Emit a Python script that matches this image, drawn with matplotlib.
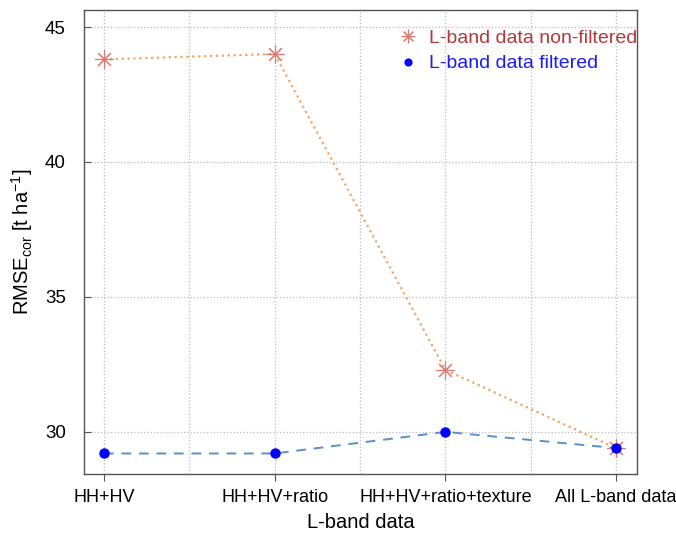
import matplotlib.pyplot as plt

plt.rcParams['font.family'] = ['Liberation Sans', 'DejaVu Sans']
plt.rcParams['mathtext.fontset'] = 'custom'
plt.rcParams['mathtext.rm'] = 'Liberation Sans'
plt.rcParams['mathtext.it'] = 'Liberation Sans'

inputs = ['HH+HV', 'HH+HV+ratio', 'HH+HV+ratio+texture', 'All L-band data']
rmse_nonfiltered = [43.8, 44.0, 32.3, 29.4]
rmse_filtered = [29.2, 29.2, 30.0, 29.4]

x = list(range(len(inputs)))

fig = plt.figure(figsize=(6.76, 5.34), dpi=100)
ax = fig.add_axes([84 / 676, 60 / 534, 553 / 676, 464 / 534])

ax.plot(x, rmse_nonfiltered, linestyle=':', color='#F4A460', lw=1.6, zorder=2)
ax.plot(x, rmse_nonfiltered, linestyle='none', marker=(8, 2, 0), ms=13,
        mec='#DC7A70', mew=0.8, zorder=3, label='L-band data non-filtered')
ax.plot(x, rmse_filtered, linestyle='--', color='#5B8FC9', lw=1.4, zorder=2,
        dashes=(5, 4))
ax.plot(x, rmse_filtered, linestyle='none', marker='o', ms=6.5,
        color='#0000FF', zorder=4, label='L-band data filtered')

ax.set_xlim(-0.117, 3.123)
ax.set_ylim(28.44, 45.63)
ax.set_xticks(x)
ax.set_xticklabels(inputs, fontsize=13)
ax.set_xticks([0.5, 1.5, 2.5], minor=True)
ax.set_yticks([30, 35, 40, 45])
ax.tick_params(axis='y', labelsize=13.5, direction='in', length=5,
               color='#555555', pad=13)
ax.tick_params(axis='x', which='major', length=5, color='#555555', pad=6)
ax.tick_params(axis='x', which='minor', length=0)

ax.grid(True, which='both', axis='x', linestyle=':', color='#BBBBBB', lw=0.9)
ax.grid(True, which='major', axis='y', linestyle=':', color='#BBBBBB', lw=0.9)
ax.set_axisbelow(True)
for s in ax.spines.values():
    s.set_color('#555555')
    s.set_linewidth(1.0)

ax.set_xlabel('L-band data', fontsize=14.5, labelpad=5)
ax.set_ylabel(r'RMSE$_{\mathrm{cor}}$ [t ha$^{-1}$]', fontsize=14.5, labelpad=7)

leg = ax.legend(loc='upper right', frameon=False, fontsize=14,
                handlelength=0.8, handletextpad=0.7, borderaxespad=0.0,
                labelspacing=0.4, markerscale=0.75,
                bbox_to_anchor=(1.015, 0.975))
for txt, c in zip(leg.get_texts(), ['#B5383A', '#1A1AFF']):
    txt.set_color(c)

fig.savefig('out.png', dpi=100)
